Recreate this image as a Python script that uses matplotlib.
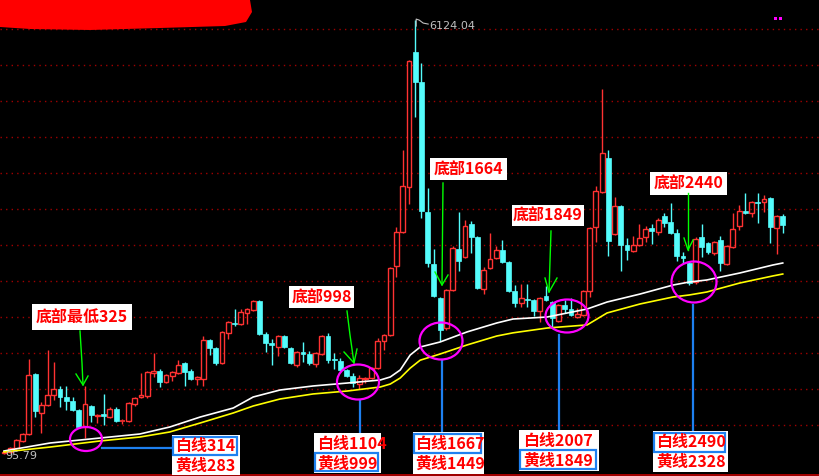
import matplotlib
matplotlib.use('Agg')
import matplotlib.pyplot as plt
from matplotlib.patches import Rectangle, Ellipse, Polygon

plt.rcParams['font.family'] = ['Noto Sans CJK SC', 'DejaVu Sans']

# ---- quarterly OHLC values ----
opens = [111, 125, 181, 278, 375, 1208, 667, 778, 917, 1000, 889, 833, 708, 472, 764, 625, 653, 611, 722, 556,
         556, 792, 889, 903, 1222, 1250, 1097, 1181, 1222, 1361, 1250, 1139, 1139, 1681, 1569, 1361, 1778, 1917, 1903, 2056,
         2097, 2222, 1764, 1639, 1583, 1736, 1569, 1333, 1514, 1486, 1347, 1486, 1736, 1417, 1389, 1264, 1181, 1069, 1139, 1153,
         1292, 1667, 1750, 2708, 3181, 3806, 5681, 5264, 3458, 2736, 2264, 1847, 2375, 2944, 2833, 3292, 3111, 2389, 2681, 2819,
         2931, 2764, 2361, 2194, 2250, 2236, 2083, 2292, 2208, 1944, 2167, 2111, 2000, 2028, 2361, 3250, 3736, 4208, 3153, 3542,
         3000, 2917, 3000, 3111, 3236, 3181, 3403, 3319, 3167, 2847, 2750, 2486, 3111, 3028, 2889, 3069, 2736, 2972, 3264, 3472,
         3444, 3597, 3597, 3653, 3236, 3403]
highs = [139, 194, 306, 389, 1417, 1222, 819, 1542, 1375, 1042, 1042, 889, 722, 1042, 778, 653, 931, 750, 750, 583,
         819, 889, 1222, 1250, 1500, 1278, 1208, 1250, 1403, 1375, 1278, 1181, 1736, 1694, 1583, 1806, 1944, 2111, 2111, 2125,
         2236, 2236, 1792, 1694, 1750, 1750, 1583, 1528, 1653, 1528, 1514, 1750, 1778, 1500, 1431, 1278, 1222, 1194, 1167, 1306,
         1708, 1764, 2694, 3250, 4319, 5569, 6124.04, 5528, 3792, 2944, 2278, 2389, 2986, 3458, 3347, 3333, 3125, 2694, 3167, 2986,
         3069, 2778, 2444, 2458, 2458, 2250, 2278, 2431, 2222, 2181, 2236, 2264, 2125, 2375, 3250, 3819, 5167, 4319, 3667, 3556,
         3097, 3125, 3292, 3264, 3292, 3375, 3444, 3583, 3222, 2903, 2764, 3111, 3292, 3042, 3056, 3125, 3000, 3444, 3556, 3722,
         3611, 3722, 3694, 3667, 3417, 3431]
lows = [95.79, 111, 167, 264, 361, 611, 389, 764, 847, 750, 708, 694, 458, 325, 542, 528, 500, 597, 542, 514,
        542, 764, 875, 875, 1167, 1028, 1083, 1111, 1208, 1042, 1125, 1056, 1042, 1472, 1333, 1347, 1694, 1875, 1889, 1903,
        2083, 1750, 1514, 1333, 1458, 1569, 1347, 1306, 1375, 1333, 1306, 1472, 1361, 1278, 1250, 1167, 1028, 998, 1083, 1139,
        1278, 1542, 1736, 2556, 3167, 3569, 4778, 3375, 2694, 2278, 1664, 1819, 2361, 2639, 2819, 2889, 2389, 2319, 2667, 2806,
        2750, 2347, 2139, 2139, 2139, 2014, 1931, 2222, 1849, 1931, 2056, 2014, 1986, 2014, 2278, 3042, 3722, 2847, 3139, 2639,
        2792, 2903, 2986, 3042, 3014, 3139, 3250, 3153, 2778, 2750, 2440, 2458, 2833, 2875, 2861, 2639, 2722, 2958, 3208, 3431,
        3389, 3306, 3458, 3028, 2875, 3167]
closes = [125, 181, 292, 375, 1194, 694, 778, 917, 1000, 889, 833, 708, 472, 792, 639, 639, 625, 722, 556, 569,
          806, 875, 917, 1236, 1250, 1097, 1194, 1236, 1333, 1236, 1139, 1167, 1681, 1569, 1361, 1792, 1931, 1903, 2069, 2111,
          2222, 1764, 1639, 1611, 1736, 1583, 1361, 1514, 1486, 1361, 1500, 1736, 1403, 1403, 1264, 1181, 1083, 1153, 1153, 1292,
          1667, 1750, 2681, 3181, 3819, 5556, 5264, 3472, 2750, 2292, 1819, 2375, 2958, 2778, 3264, 3111, 2403, 2653, 2806, 2931,
          2764, 2361, 2194, 2264, 2236, 2083, 2264, 2236, 1986, 2167, 2111, 2028, 2042, 2361, 3236, 3750, 4278, 3056, 3542, 3000,
          2931, 3000, 3097, 3222, 3194, 3347, 3306, 3167, 2847, 2819, 2472, 3083, 2972, 2903, 3042, 2750, 2986, 3222, 3472, 3444,
          3597, 3583, 3639, 3250, 3403, 3278]

# moving-average lines (white / yellow), read at candle positions
ma_idx = [0, 7.4, 15.4, 21.8, 26.6, 31.5, 36.8, 40, 44.3, 49.6, 55.1, 60.4, 62, 63.6, 65.2, 66.8, 70, 74.3, 79.1, 81.7,
          87.2, 93.6, 96.8, 102.1, 107.4, 110, 112.8, 118.1, 123.4, 125]
white_ma = [139, 250, 319, 375, 472, 611, 736, 889, 986, 1042, 1083, 1125, 1167, 1264, 1472, 1583, 1653, 1792, 1917, 1972,
            2000, 2111, 2208, 2319, 2444, 2486, 2514, 2611, 2722, 2750]
yellow_ma = [125, 194, 278, 333, 403, 528, 667, 764, 861, 931, 972, 1028, 1069, 1153, 1290, 1400, 1486, 1611, 1736, 1780,
             1847, 1890, 2056, 2181, 2278, 2306, 2347, 2472, 2570, 2597]

# bottom annotations
bottom_titles = ['底部最低325', '底部998', '底部1664', '底部1849', '底部2440']
white_labels = ['白线314', '白线1104', '白线1667', '白线2007', '白线2490']
yellow_labels = ['黄线283', '黄线999', '黄线1449', '黄线1849', '黄线2328']
grid_levels = list(range(500, 6001, 500))

# ---- figure ----
W, H = 820, 476
X0, DX = 4.0, 6.23
Y0, SY = 461.0, 0.072

fig = plt.figure(figsize=(W / 100, H / 100), dpi=100, facecolor='black')
ax = fig.add_axes([0, 0, 1, 1])
ax.set_facecolor('black')
ax.set_xlim((0 - X0) / DX, (W - X0) / DX)
ax.set_ylim((Y0 - H) / SY, Y0 / SY)
ax.axis('off')

for g in grid_levels:
    ax.axhline(g, color='#A00000', lw=1.0, ls=(0, (1, 3)), zorder=1)
ax.axhline((Y0 - 475) / SY, color='#C00000', lw=1.2, zorder=1)

RED = '#FF3232'
CYAN = '#54FCFC'
bw = 0.78
minh = 14
for i, (o, h, l, c) in enumerate(zip(opens, highs, lows, closes)):
    top, bot = max(o, c), min(o, c)
    if c >= o:
        ax.vlines(i, top, h, color=RED, lw=1.0, zorder=3)
        ax.vlines(i, l, bot, color=RED, lw=1.0, zorder=3)
        if top - bot < minh:
            ax.hlines((top + bot) / 2, i - bw / 2, i + bw / 2, color=RED, lw=1.2, zorder=3)
        else:
            ax.add_patch(Rectangle((i - bw / 2, bot), bw, top - bot, fill=False,
                                   edgecolor=RED, lw=1.0, zorder=3))
    else:
        ax.vlines(i, l, h, color=CYAN, lw=1.0, zorder=3)
        if top - bot < minh:
            ax.hlines((top + bot) / 2, i - bw / 2, i + bw / 2, color=CYAN, lw=1.2, zorder=3)
        else:
            ax.add_patch(Rectangle((i - bw / 2, bot), bw, top - bot, facecolor=CYAN,
                                   edgecolor=CYAN, lw=0.5, zorder=3))

ax.plot(ma_idx, white_ma, color='white', lw=1.2, zorder=4)
ax.plot(ma_idx, yellow_ma, color='#FFFF00', lw=1.2, zorder=4)

# ---- overlay in pixel coordinates for annotations ----
ov = fig.add_axes([0, 0, 1, 1])
ov.set_xlim(0, W)
ov.set_ylim(H, 0)
ov.axis('off')
ov.patch.set_alpha(0)

def px(i, p):
    return X0 + DX * i, Y0 - SY * p

# red scribble top-left
ov.add_patch(Polygon([(0, 0), (250, 0), (252, 12), (246, 22), (225, 26), (160, 28), (90, 30), (30, 29), (0, 27)],
                     closed=True, facecolor='#FF0000', edgecolor='none', zorder=5))
# magenta markers top-right
ov.add_patch(Rectangle((774.5, 16.5), 3, 3, facecolor='#FF00FF', edgecolor='none'))
ov.add_patch(Rectangle((779.5, 16.5), 3, 3, facecolor='#FF00FF', edgecolor='none'))

# max / min value labels
imax = max(range(len(highs)), key=lambda k: highs[k])
hx, hy = px(imax, highs[imax])
ov.plot([hx + 1, hx + 1, hx + 4, hx + 8, hx + 13], [hy + 6, hy - 1, hy, hy + 3, hy + 4], color='#C0C0C0', lw=0.8)
ov.text(hx + 14, hy + 6, f'{highs[imax]:.2f}', color='#C0C0C0', fontsize=8, family='DejaVu Sans',
        ha='left', va='center')
ov.text(5, 456, f'{min(lows):.2f}', color='#C0C0C0', fontsize=8, family='DejaVu Sans', ha='left', va='center')

MAG = '#FF00FF'
BLUE = '#1E80F0'
GREEN = '#00FF00'
TXT = '#FF0000'
FS = 11.5

def title_box(x0, y0, x1, y1, text):
    ov.add_patch(Rectangle((x0, y0), x1 - x0, y1 - y0, facecolor='white', edgecolor='none', zorder=6))
    ov.text((x0 + x1) / 2, (y0 + y1) / 2 + 0.5, text, color=TXT, fontsize=FS, fontweight='bold',
            ha='center', va='center', zorder=7)

def arrow(pts_line, tip, left, right):
    xs, ys = zip(*pts_line)
    ov.plot(xs, ys, color=GREEN, lw=1.0, zorder=6)
    ov.plot([left[0], tip[0], right[0]], [left[1], tip[1], right[1]], color=GREEN, lw=1.0, zorder=6)

def ring(cx, cy, w, h):
    ov.add_patch(Ellipse((cx, cy), w, h, fill=False, edgecolor=MAG, lw=1.6, zorder=6))

def value_box(x0, y0, x1, y1, t1, t2, frame_top, tx):
    ov.add_patch(Rectangle((x0, y0), x1 - x0, y1 - y0, facecolor='white', edgecolor='none', zorder=6))
    ym = (y0 + y1) / 2
    if frame_top:
        ov.add_patch(Rectangle((x0 + 1.5, y0 + 1.5), x1 - x0 - 4, ym - y0 - 1.5, fill=False,
                               edgecolor=BLUE, lw=1.6, zorder=7))
    else:
        ov.add_patch(Rectangle((x0 + 1.5, ym - 0.5), x1 - x0 - 4, y1 - ym - 1.5, fill=False,
                               edgecolor=BLUE, lw=1.6, zorder=7))
    ov.text(tx, (y0 + ym) / 2 + 1, t1, color=TXT, fontsize=FS, fontweight='bold', ha='left', va='center', zorder=8)
    ov.text(tx, (ym + y1) / 2 + 0.5, t2, color=TXT, fontsize=FS, fontweight='bold', ha='left', va='center', zorder=8)

# 1: bottom 325
title_box(32, 304, 132, 330, bottom_titles[0])
arrow([(80, 331), (82, 363), (83, 385)], (83, 385), (76, 374), (88, 376))
ring(86, 439, 32, 24)
ov.plot([102, 172], [448, 448], color=BLUE, lw=1.6, zorder=6)
value_box(172, 435, 240, 475, white_labels[0], yellow_labels[0], True, 175)

# 2: bottom 998
title_box(289, 286, 354, 308, bottom_titles[1])
arrow([(347, 311), (350, 335), (354, 363)], (354, 363), (344, 352), (357, 349))
ring(358, 382, 42, 35)
ov.plot([360, 360], [400, 434], color=BLUE, lw=1.6, zorder=5)
value_box(314, 433, 381, 473, white_labels[1], yellow_labels[1], False, 317)

# 3: bottom 1664
title_box(430, 158, 507, 180, bottom_titles[2])
arrow([(443, 183), (442, 285)], (442, 285), (435, 272), (448, 275))
ring(441, 341, 43, 37)
ov.plot([442, 442], [360, 433], color=BLUE, lw=1.6, zorder=5)
value_box(413, 432, 484, 474, white_labels[2], yellow_labels[2], True, 415)

# 4: bottom 1849
title_box(512, 205, 584, 226, bottom_titles[3])
arrow([(551, 231), (549, 292)], (549, 292), (545, 278), (557, 278))
ring(567, 316, 43, 33)
ov.plot([559, 559], [335, 431], color=BLUE, lw=1.6, zorder=5)
value_box(519, 430, 599, 471, white_labels[3], yellow_labels[3], False, 523)

# 5: bottom 2440
title_box(650, 172, 727, 195, bottom_titles[4])
arrow([(688, 193), (688, 250)], (688, 250), (684, 238), (693, 240))
ring(694, 282, 45, 41)
ov.plot([693, 693], [305, 431], color=BLUE, lw=1.6, zorder=5)
value_box(653, 431, 728, 472, white_labels[4], yellow_labels[4], True, 656)

fig.savefig('out.png', dpi=100, facecolor='black')
